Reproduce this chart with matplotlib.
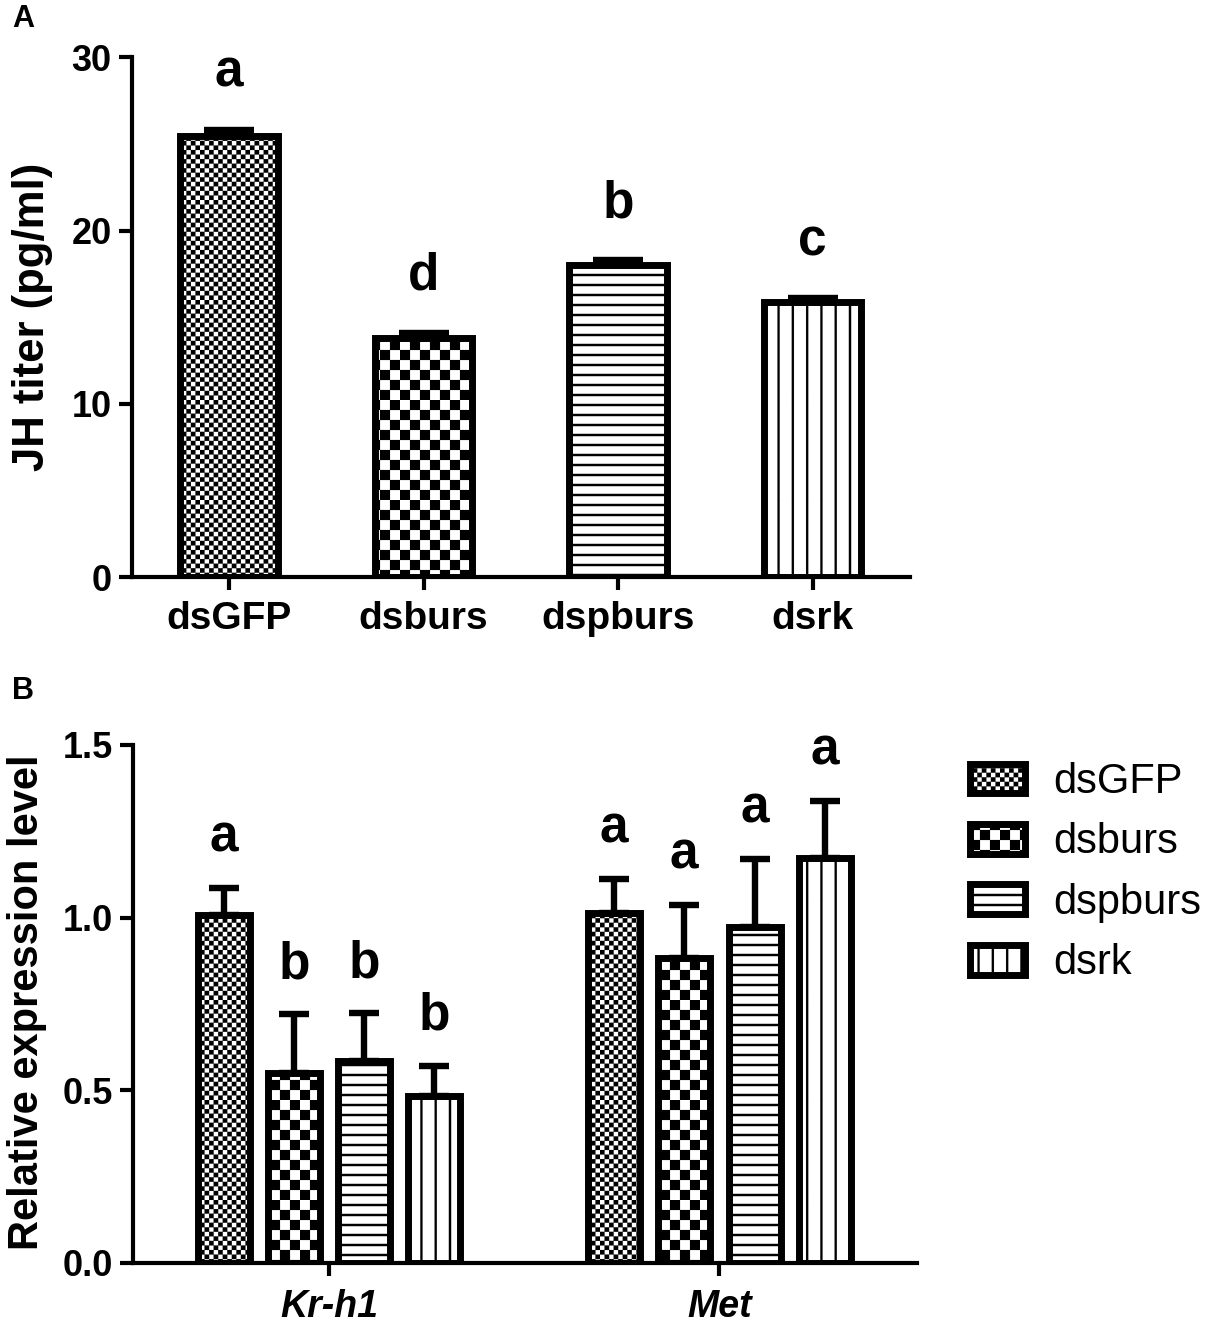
import matplotlib
matplotlib.use("Agg")
import matplotlib.pyplot as plt
import matplotlib.hatch as mhatch
from matplotlib.path import Path
import numpy as np

# ---------------- data ----------------
groups_a = ["dsGFP", "dsburs", "dspburs", "dsrk"]
jh_mean = [25.46, 13.80, 18.01, 15.86]
jh_err = [0.35, 0.30, 0.28, 0.22]
jh_letters = ["a", "d", "b", "c"]

genes = ["Kr-h1", "Met"]
treatments = ["dsGFP", "dsburs", "dspburs", "dsrk"]
krh1_mean = [1.006, 0.551, 0.585, 0.482]
krh1_err = [0.081, 0.169, 0.138, 0.088]
met_mean = [1.012, 0.883, 0.973, 1.174]
met_err = [0.100, 0.154, 0.197, 0.164]
krh1_letters = ["a", "b", "b", "b"]
met_letters = ["a", "a", "a", "a"]

# ---------------- custom tile hatches ----------------
plt.rcParams["hatch.linewidth"] = 0.1


class _TileHatch(mhatch.HatchPatternBase):
    char = None

    def __init__(self, hatch, density):
        self.rects = self.make_rects() if (hatch and self.char in hatch) else []
        self.num_vertices = 5 * len(self.rects)

    def make_rects(self):
        return []

    def set_vertices_and_codes(self, vertices, codes):
        verts, cds = [], []
        for (x0, y0, x1, y1) in self.rects:
            verts += [(x0, y0), (x1, y0), (x1, y1), (x0, y1), (x0, y0)]
            cds += [Path.MOVETO, Path.LINETO, Path.LINETO, Path.LINETO, Path.CLOSEPOLY]
        vertices[:] = verts
        codes[:] = cds


class _Checker(_TileHatch):
    n = 20

    def make_rects(self):
        s = 1.0 / self.n
        return [(i * s, j * s, (i + 1) * s, (j + 1) * s)
                for i in range(self.n) for j in range(self.n) if (i + j) % 2 == 0]


class FineChecker(_Checker):
    char = "o"
    n = 22


class CoarseChecker(_Checker):
    char = "O"
    n = 10


class HLines(_TileHatch):
    char = "-"
    n = 10
    t = 0.022

    def make_rects(self):
        return [(0.0, (k + 0.5) / self.n - self.t / 2, 1.0, (k + 0.5) / self.n + self.t / 2)
                for k in range(self.n)]


class VLines(_TileHatch):
    char = "|"
    n = 7
    t = 0.022

    def make_rects(self):
        return [((k + 0.5) / self.n - self.t / 2, 0.0, (k + 0.5) / self.n + self.t / 2, 1.0)
                for k in range(self.n)]


mhatch._hatch_types[:] = [FineChecker, CoarseChecker, HLines, VLines]
hatches = ["o", "O", "-", "|"]

# ---------------- style ----------------
plt.rcParams["font.family"] = ["Liberation Sans", "DejaVu Sans"]
W, H = 1211, 1325
fig = plt.figure(figsize=(W / 100, H / 100), dpi=100)

SPINE_LW = 3.0
BAR_LW = 5.0
ERR_LW = 4.6


def style_axes(ax):
    for s in ["top", "right"]:
        ax.spines[s].set_visible(False)
    for s in ["left", "bottom"]:
        ax.spines[s].set_linewidth(SPINE_LW)
    ax.tick_params(direction="out", length=9.5, width=SPINE_LW, labelsize=26, pad=5)
    for lab in ax.get_yticklabels():
        lab.set_fontweight("bold")


# ---------------- panel A ----------------
axA = fig.add_axes([131.7 / W, 1 - 577 / H, (910 - 131.7) / W, (577 - 57.3) / H])
xa = np.arange(len(groups_a))
for i in range(len(groups_a)):
    axA.bar(xa[i], jh_mean[i], width=0.5, facecolor="white", edgecolor="black",
            linewidth=BAR_LW, hatch=hatches[i], zorder=2)
axA.errorbar(xa, jh_mean, yerr=[np.zeros(len(jh_err)), jh_err], fmt="none",
             ecolor="black", elinewidth=ERR_LW, capsize=18, capthick=ERR_LW, zorder=3)
for xi, m, e, l in zip(xa, jh_mean, jh_err, jh_letters):
    axA.annotate(l, (xi, m + e), xytext=(0, 31), textcoords="offset points",
                 ha="center", va="baseline", fontsize=37, fontweight="bold")
axA.set_xlim(-0.5, 3.5)
axA.set_ylim(0, 30)
axA.set_yticks([0, 10, 20, 30])
axA.set_xticks(xa)
axA.set_xticklabels(groups_a, fontsize=28, fontweight="bold")
style_axes(axA)
axA.tick_params(axis="x", pad=7.5, labelsize=28)
axA.set_ylabel("JH titer (pg/ml)", fontsize=31.5, fontweight="bold")
axA.yaxis.label.set_verticalalignment("center")
axA.yaxis.set_label_coords(-0.127, 0.5)

# ---------------- panel B ----------------
axB = fig.add_axes([133 / W, 1 - 1262.7 / H, (917 - 133) / W, (1262.7 - 745) / H])
xg = np.arange(len(genes))
step = 0.18
bw = 0.133
offsets = (np.arange(len(treatments)) - 1.5) * step
bmeans = np.array([krh1_mean, met_mean]).T
berrs = np.array([krh1_err, met_err]).T
bletters = np.array([krh1_letters, met_letters]).T
for i, t in enumerate(treatments):
    xs = xg + offsets[i]
    axB.bar(xs, bmeans[i], width=bw, facecolor="white", edgecolor="black",
            linewidth=BAR_LW, hatch=hatches[i], zorder=2, label=t)
    axB.errorbar(xs, bmeans[i], yerr=[np.zeros(len(genes)), berrs[i]], fmt="none",
                 ecolor="black", elinewidth=ERR_LW, capsize=10.5, capthick=ERR_LW, zorder=3)
    for xi, m, e, l in zip(xs, bmeans[i], berrs[i], bletters[i]):
        axB.annotate(l, (xi, m + e), xytext=(0, 26), textcoords="offset points",
                     ha="center", va="baseline", fontsize=37, fontweight="bold")
axB.set_xlim(-0.502, 1.506)
axB.set_ylim(0, 1.5)
axB.set_yticks([0, 0.5, 1.0, 1.5])
axB.set_yticklabels(["0.0", "0.5", "1.0", "1.5"])
axB.set_xticks(xg)
axB.set_xticklabels(genes, fontsize=27, fontweight="bold", fontstyle="italic")
style_axes(axB)
axB.tick_params(axis="x", pad=9.5, labelsize=27)
axB.set_ylabel("Relative expression level", fontsize=30, fontweight="bold")
axB.yaxis.label.set_verticalalignment("center")
axB.yaxis.set_label_coords(-0.135, 0.504)

axB.legend(loc="upper left", bbox_to_anchor=(969.5 / W, 1 - 762 / H),
           bbox_transform=fig.transFigure, frameon=False, fontsize=30,
           handlelength=1.32, handleheight=0.72, handletextpad=0.68,
           labelspacing=0.49, borderpad=0, borderaxespad=0)

fig.text(12 / W, 1 - 4 / H, "A", fontsize=22, fontweight="bold", va="top", ha="left")
fig.text(12 / W, 1 - 676 / H, "B", fontsize=22, fontweight="bold", va="top", ha="left")

fig.savefig("out.png", dpi=100)
